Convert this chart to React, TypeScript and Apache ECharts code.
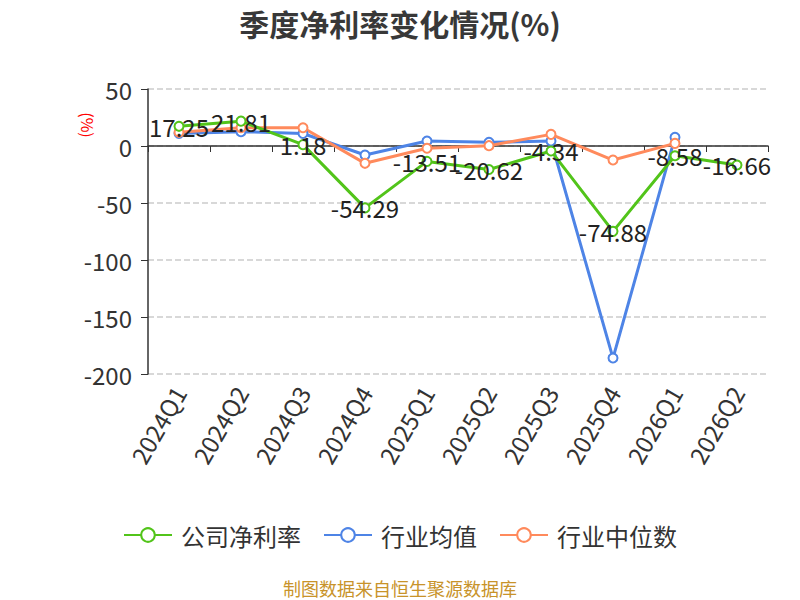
import React, { useEffect, useRef } from "react";
import * as echarts from "echarts";

const categories = ["2024Q1", "2024Q2", "2024Q3", "2024Q4", "2025Q1", "2025Q2", "2025Q3", "2025Q4", "2026Q1", "2026Q2"];
const companyNetMargin = [17.25, 21.81, 1.18, -54.29, -13.51, -20.62, -4.34, -74.88, -8.58, -16.66];
const industryAverage = [11, 12.6, 11, -7.9, 4.4, 3.2, 4.4, -186, 7.6, null];
const industryMedian = [12, 16, 16, -15.2, -2, 0.3, 10.2, -12.3, 2.3, null];
const yTicks = { min: -200, max: 50, interval: 50 };

const FONT = "'Noto Sans CJK SC', 'Noto Sans', sans-serif";

export default function App() {
  const ref = useRef<HTMLDivElement>(null);
  useEffect(() => {
    document.body.style.margin = "0";
    if (!ref.current) return;
    const chart = echarts.init(ref.current, undefined, { renderer: "svg" });
    const lineSeries = (name: string, data: (number | null)[], color: string, showLabel: boolean) => ({
      name,
      type: "line",
      data,
      xAxisIndex: 0,
      yAxisIndex: 0,
      symbol: "emptyCircle",
      symbolSize: 9,
      showSymbol: true,
      connectNulls: false,
      itemStyle: { color, borderWidth: 2 },
      lineStyle: { color, width: 3 },
      label: showLabel
        ? { show: true, position: "inside", fontSize: 24, color: "#222", fontFamily: FONT }
        : { show: false },
      z: showLabel ? 3 : 2,
    });
    chart.setOption({
      animation: false,
      textStyle: { fontFamily: FONT },
      title: {
        text: "季度净利率变化情况(%)",
        left: "center",
        top: 3,
        textStyle: { fontSize: 30, fontWeight: "bold", color: "#383838", fontFamily: FONT },
      },
      grid: { left: 148, right: 32, top: 89, bottom: 226, containLabel: false },
      legend: {
        top: 518,
        left: "center",
        itemWidth: 48,
        itemHeight: 17,
        itemGap: 22,
        textStyle: { fontSize: 24, color: "#333", fontFamily: FONT, padding: [0, 0, 0, 4] },
        data: ["公司净利率", "行业均值", "行业中位数"],
      },
      xAxis: [
        {
          type: "category",
          data: categories,
          position: "bottom",
          boundaryGap: true,
          axisLine: { show: false, onZero: false },
          axisTick: { show: false },
          axisLabel: { rotate: 60, fontSize: 24, color: "#333", margin: 14, fontFamily: FONT },
          splitLine: { show: false },
        },
        {
          type: "category",
          data: categories,
          position: "top",
          boundaryGap: true,
          axisLine: { show: true, onZero: true, lineStyle: { color: "#333", width: 1.5 } },
          axisTick: { show: true, inside: true, length: 6, lineStyle: { color: "#333" } },
          axisLabel: { show: false },
          splitLine: { show: false },
        },
      ],
      yAxis: {
        type: "value",
        min: yTicks.min,
        max: yTicks.max,
        interval: yTicks.interval,
        axisLine: { show: true, lineStyle: { color: "#333", width: 1.5 } },
        axisTick: { show: true, length: 7, lineStyle: { color: "#333" } },
        axisLabel: { fontSize: 24, color: "#333", margin: 16, fontFamily: FONT },
        splitLine: { show: true, lineStyle: { type: "dashed", color: "#ccc", width: 1.5 } },
      },
      graphic: [
        {
          type: "text",
          x: 88,
          y: 125,
          rotation: -Math.PI / 2,
          style: {
            text: "(%)",
            fill: "#ff0000",
            fontSize: 16,
            fontFamily: FONT,
            align: "center",
            verticalAlign: "middle",
          },
        },
        {
          type: "text",
          left: "center",
          top: 579,
          style: {
            text: "制图数据来自恒生聚源数据库",
            fill: "#c8932a",
            fontSize: 18,
            fontFamily: FONT,
          },
        },
      ],
      series: [
        lineSeries("公司净利率", companyNetMargin, "#52c41a", true),
        lineSeries("行业均值", industryAverage, "#4e84e6", false),
        lineSeries("行业中位数", industryMedian, "#ff8a5c", false),
      ],
    });
    return () => chart.dispose();
  }, []);
  return <div ref={ref} style={{ width: 800, height: 600 }} />;
}
